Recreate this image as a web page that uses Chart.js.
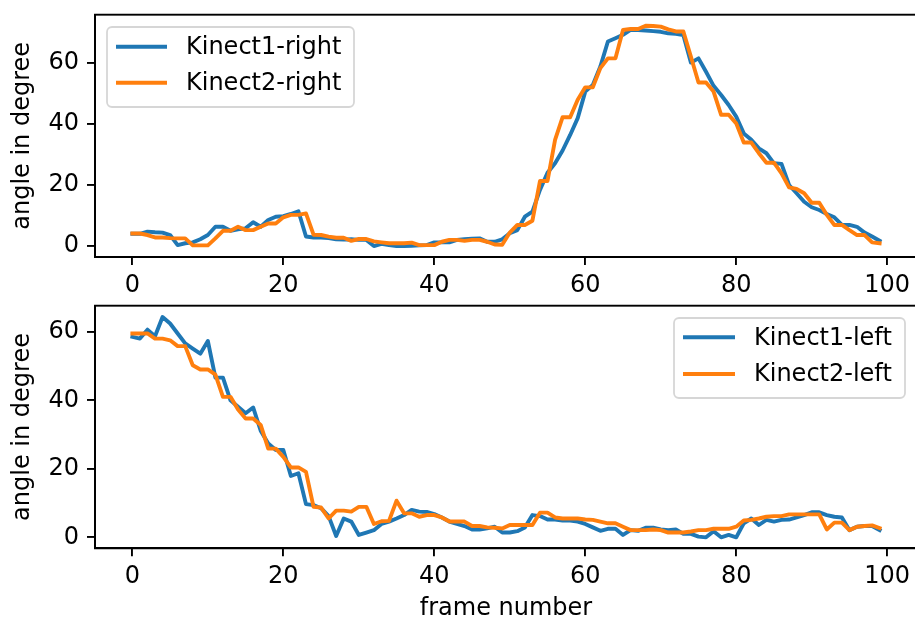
<!DOCTYPE html>
<html>
<head>
<meta charset="utf-8">
<script src="https://cdn.jsdelivr.net/npm/chart.js@4.4.1/dist/chart.umd.min.js"></script>
<style>
  html, body { margin: 0; padding: 0; background: #fff; overflow: hidden; width: 915px; height: 624px; }
  .plot { position: absolute; left: 0; width: 925px; }
  #top { top: 0; height: 300px; }
  #bottom { top: 280px; height: 344px; }
</style>
</head>
<body>
<div class="plot" id="top"><canvas id="c-right"></canvas></div>
<div class="plot" id="bottom"><canvas id="c-left"></canvas></div>
<script>
// frame-by-frame joint angles (degrees), index = frame number
const rightKinect1 = [4.0, 4.0, 4.7, 4.5, 4.4, 3.6, 0.3, 0.9, 1.2, 2.2,
  3.6, 6.3, 6.3, 5.0, 5.5, 5.8, 7.8, 6.3, 8.5, 9.6,
  9.8, 10.5, 11.4, 3.1, 2.8, 2.8, 2.6, 2.2, 2.1, 2.2,
  2.0, 2.0, 0.0, 0.7, 0.3, 0.0, 0.0, 0.1, 0.2, 0.3,
  1.2, 1.2, 1.2, 2.0, 2.2, 2.4, 2.5, 1.4, 1.4, 2.2,
  4.2, 5.2, 9.6, 11.3, 18.4, 24.0, 27.1, 31.3, 36.4, 41.9,
  50.6, 52.8, 58.8, 67.0, 68.1, 69.2, 70.8, 70.8, 70.6, 70.4,
  70.2, 69.7, 69.5, 69.1, 60.1, 61.5, 57.1, 52.5, 49.5, 46.2,
  42.4, 36.9, 34.8, 32.0, 30.4, 27.1, 26.9, 20.0, 17.3, 14.5,
  12.7, 11.8, 10.5, 9.4, 6.9, 6.9, 6.3, 4.4, 3.1, 1.7];
const rightKinect2 = [4.1, 4.1, 3.6, 2.8, 2.8, 2.6, 2.5, 2.5, 0.2, 0.2,
  0.2, 2.5, 5.0, 5.0, 6.3, 5.2, 5.2, 6.3, 7.4, 7.4,
  9.4, 10.2, 10.2, 10.7, 3.7, 3.6, 3.1, 2.7, 2.7, 1.7,
  2.3, 2.3, 1.5, 1.2, 0.9, 0.9, 0.9, 1.1, 0.3, 0.3,
  0.3, 1.4, 2.0, 2.0, 1.7, 2.0, 2.0, 1.4, 0.5, 0.4,
  4.4, 6.9, 6.9, 8.3, 21.3, 21.3, 34.8, 42.2, 42.2, 47.9,
  52.0, 52.0, 58.3, 61.5, 61.5, 70.8, 71.1, 71.1, 72.2, 72.1,
  71.9, 71.0, 70.3, 70.3, 62.0, 53.6, 53.6, 50.6, 43.0, 43.0,
  40.2, 33.9, 33.9, 30.4, 27.3, 27.3, 23.8, 19.2, 18.7, 17.3,
  14.2, 14.2, 10.2, 6.9, 6.9, 5.2, 3.6, 3.6, 1.2, 0.9];
const leftKinect1 = [58.5, 58.0, 60.6, 58.7, 64.3, 62.4, 59.5, 56.6, 55.1, 53.6,
  57.3, 46.6, 46.6, 40.0, 38.1, 36.2, 37.9, 31.1, 27.4, 25.5,
  25.5, 17.9, 18.7, 9.7, 9.4, 8.5, 6.2, 0.4, 5.5, 4.6,
  0.7, 1.4, 2.1, 3.9, 4.6, 5.5, 6.5, 8.0, 7.5, 7.4,
  6.8, 5.8, 4.6, 3.9, 3.3, 2.3, 2.3, 2.6, 3.1, 1.4,
  1.4, 1.8, 2.9, 6.5, 6.2, 5.2, 5.2, 4.9, 4.9, 4.6,
  3.9, 2.9, 1.9, 2.5, 2.5, 0.7, 2.1, 1.9, 2.8, 2.8,
  2.3, 2.1, 2.3, 1.0, 1.0, 0.2, 0.0, 1.8, 0.0, 0.7,
  0.0, 4.1, 5.5, 3.6, 5.1, 4.6, 5.1, 5.2, 5.8, 6.5,
  7.3, 7.3, 6.5, 6.0, 5.8, 2.1, 3.1, 3.3, 3.3, 2.1];
const leftKinect2 = [59.5, 59.5, 59.5, 58.0, 58.0, 57.5, 55.8, 55.8, 50.2, 49.0,
  49.0, 47.5, 41.0, 41.0, 37.3, 34.7, 34.7, 32.8, 25.9, 25.9,
  23.5, 20.4, 20.4, 19.1, 8.9, 8.7, 5.5, 7.8, 7.8, 7.5,
  8.9, 8.9, 3.9, 4.7, 4.8, 10.7, 7.0, 7.0, 6.0, 6.5,
  6.5, 5.8, 4.6, 4.6, 4.6, 3.3, 3.3, 2.9, 2.8, 2.6,
  3.6, 3.6, 3.6, 3.6, 7.2, 7.2, 5.8, 5.5, 5.5, 5.5,
  5.2, 5.1, 4.6, 4.1, 4.1, 3.1, 2.1, 2.1, 2.1, 2.3,
  2.1, 1.4, 1.4, 1.4, 1.7, 2.1, 2.1, 2.5, 2.5, 2.5,
  3.1, 4.9, 5.1, 5.5, 6.0, 6.2, 6.2, 6.7, 6.7, 6.7,
  6.7, 6.7, 2.3, 4.3, 4.3, 2.1, 3.1, 3.3, 3.5, 2.7];

const xTicks = [0, 20, 40, 60, 80, 100];
const yTicks = [0, 20, 40, 60];
const rightLabels = ['Kinect1-right', 'Kinect2-right'];
const leftLabels = ['Kinect1-left', 'Kinect2-left'];
const yTitle = 'angle in degree';
const xTitle = 'frame number';

const BLUE = '#1f77b4', ORANGE = '#ff7f0e';
const FONT = 'DejaVu Sans';
const FS = 24;
const LW = 3.9;
Chart.defaults.font.family = FONT;
Chart.defaults.color = '#000';

const toPoints = arr => arr.map((y, i) => ({ x: i, y }));

// top + right spines (chart.js only draws the axis borders)
const frameBox = {
  id: 'frameBox',
  afterDatasetsDraw(chart) {
    const { ctx, chartArea: a } = chart;
    ctx.save();
    ctx.strokeStyle = '#000';
    ctx.lineWidth = 1.9;
    ctx.strokeRect(a.left, a.top, a.right - a.left, a.bottom - a.top);
    ctx.restore();
  }
};

function boxLegend(box) {
  return {
    id: 'boxLegend',
    afterDraw(chart) {
      const ctx = chart.ctx;
      ctx.save();
      ctx.beginPath();
      ctx.roundRect(box.x, box.y, box.w, box.h, 5);
      ctx.fillStyle = 'rgba(255,255,255,0.8)';
      ctx.fill();
      ctx.strokeStyle = 'rgba(204,204,204,0.8)';
      ctx.lineWidth = 1.8;
      ctx.stroke();
      ctx.font = FS + 'px "' + FONT + '"';
      ctx.textBaseline = 'middle';
      chart.data.datasets.forEach((ds, i) => {
        const y = box.rows[i];
        ctx.strokeStyle = ds.borderColor;
        ctx.lineWidth = LW;
        ctx.beginPath();
        ctx.moveTo(box.lineX0, y);
        ctx.lineTo(box.lineX1, y);
        ctx.stroke();
        ctx.fillStyle = '#000';
        ctx.fillText(ds.label, box.textX, y + 1);
      });
      ctx.restore();
    }
  };
}

function makePlot(id, k1, k2, labels, yMin, yMax, padTop, xAxisH, showXTitle, legend) {
  return new Chart(document.getElementById(id), {
    type: 'line',
    data: {
      datasets: [
        { label: labels[0], data: toPoints(k1), borderColor: BLUE, order: 1 },
        { label: labels[1], data: toPoints(k2), borderColor: ORANGE, order: 0 }
      ]
    },
    options: {
      responsive: true, maintainAspectRatio: false, animation: false,
      devicePixelRatio: 1,
      layout: { padding: { top: padTop, right: 8, bottom: 0, left: 0 } },
      elements: {
        line: { borderWidth: LW, tension: 0, borderJoinStyle: 'round', borderCapStyle: 'square', fill: false },
        point: { radius: 0, hoverRadius: 0 }
      },
      plugins: { legend: { display: false }, tooltip: { enabled: false } },
      scales: {
        x: {
          type: 'linear', min: -4.95, max: 103.95,
          afterBuildTicks: s => { s.ticks = xTicks.map(v => ({ value: v })); },
          afterFit: s => { s.height = xAxisH; s.paddingLeft = 0; s.paddingRight = 0; },
          grid: { drawOnChartArea: false, drawTicks: true, tickLength: 8, color: '#000', lineWidth: 1.9 },
          border: { display: true, color: '#000', width: 1.9 },
          ticks: { font: { size: FS }, padding: 6, maxRotation: 0 },
          title: { display: showXTitle, text: xTitle, font: { size: FS }, padding: { top: 0, bottom: 1 } }
        },
        y: {
          type: 'linear', min: yMin, max: yMax,
          afterBuildTicks: s => { s.ticks = yTicks.map(v => ({ value: v })); },
          afterFit: s => { s.width = 95; s.paddingTop = 0; s.paddingBottom = 0; },
          grid: { drawOnChartArea: false, drawTicks: true, tickLength: 8, color: '#000', lineWidth: 1.9 },
          border: { display: true, color: '#000', width: 1.9 },
          ticks: { font: { size: FS }, padding: 8 },
          title: { display: true, text: yTitle, font: { size: FS }, padding: { top: 8, bottom: 0 } }
        }
      }
    },
    plugins: [frameBox, boxLegend(legend)]
  });
}

makePlot('c-right', rightKinect1, rightKinect2, rightLabels, -3.6, 75.8, 14.7, 43, false,
  { x: 107, y: 27, w: 247, h: 80, rows: [46.7, 82.7], lineX0: 116, lineX1: 167, textX: 186 });
makePlot('c-left', leftKinect1, leftKinect2, leftLabels, -3.2, 67.6, 25.7, 75.7, true,
  { x: 674, y: 38, w: 231, h: 80, rows: [57.3, 94], lineX0: 683, lineX1: 735, textX: 754 });
</script>
</body>
</html>
